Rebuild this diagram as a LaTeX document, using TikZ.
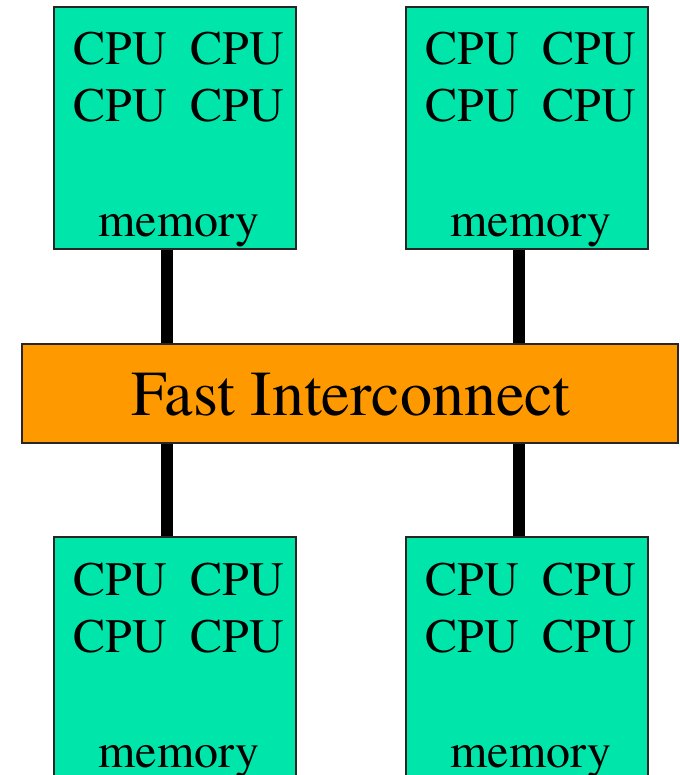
\documentclass[tikz,border=0pt]{standalone}
\usepackage{fontspec}
\setmainfont{TeX Gyre Termes}
\usetikzlibrary{calc}
\definecolor{nodegreen}{RGB}{0,229,170}
\definecolor{busorange}{RGB}{255,153,0}
\tikzset{
  smpbox/.style={draw=black!85, line width=1.6pt, fill=nodegreen,
    minimum width=242pt, minimum height=242pt, inner sep=0pt},
  busbox/.style={draw=black!85, line width=1.6pt, fill=busorange,
    minimum width=656pt, minimum height=99pt, inner sep=0pt},
  label48/.style={anchor=base, inner sep=0pt, font=\fontsize{48}{48}\selectfont},
  label64/.style={anchor=base, inner sep=0pt, font=\fontsize{64}{64}\selectfont},
  link/.style={line width=12pt, black}
}
\begin{document}
\begin{tikzpicture}[x=1pt, y=-1pt]
  \useasboundingbox (0,0) rectangle (679,775);
  \clip (0,0) rectangle (679,775);

  % interconnect bar
  \node[busbox] (bus) at (350,393.5) {};
  \node[label64] (bustext) at ($(bus.center)+(1,22)$) {Fast Interconnect};

  % four SMP nodes, each with four CPUs and a memory
  \foreach \name/\cx/\cy in {nw/175/128, ne/527/128, sw/175/658, se/527/658} {
    \node[smpbox] (\name) at (\cx,\cy) {};
    \node[label48] (\name-c1) at ($(\name.center)+(-55,-63)$) {CPU};
    \node[label48] (\name-c2) at ($(\name.center)+(62,-63)$) {CPU};
    \node[label48] (\name-c3) at ($(\name.center)+(-55,-6)$) {CPU};
    \node[label48] (\name-c4) at ($(\name.center)+(62,-6)$) {CPU};
    \node[label48] (\name-mem) at ($(\name.center)+(4,109)$) {memory};
  }

  % links between nodes and the bar
  \foreach \name in {nw, ne} {
    \draw[link] ([xshift=-8pt]\name.south) -- ([xshift=-8pt]\name.south |- bus.north);
  }
  \foreach \name in {sw, se} {
    \draw[link] ([xshift=-8pt]\name.north) -- ([xshift=-8pt]\name.north |- bus.south);
  }
\end{tikzpicture}
\end{document}
